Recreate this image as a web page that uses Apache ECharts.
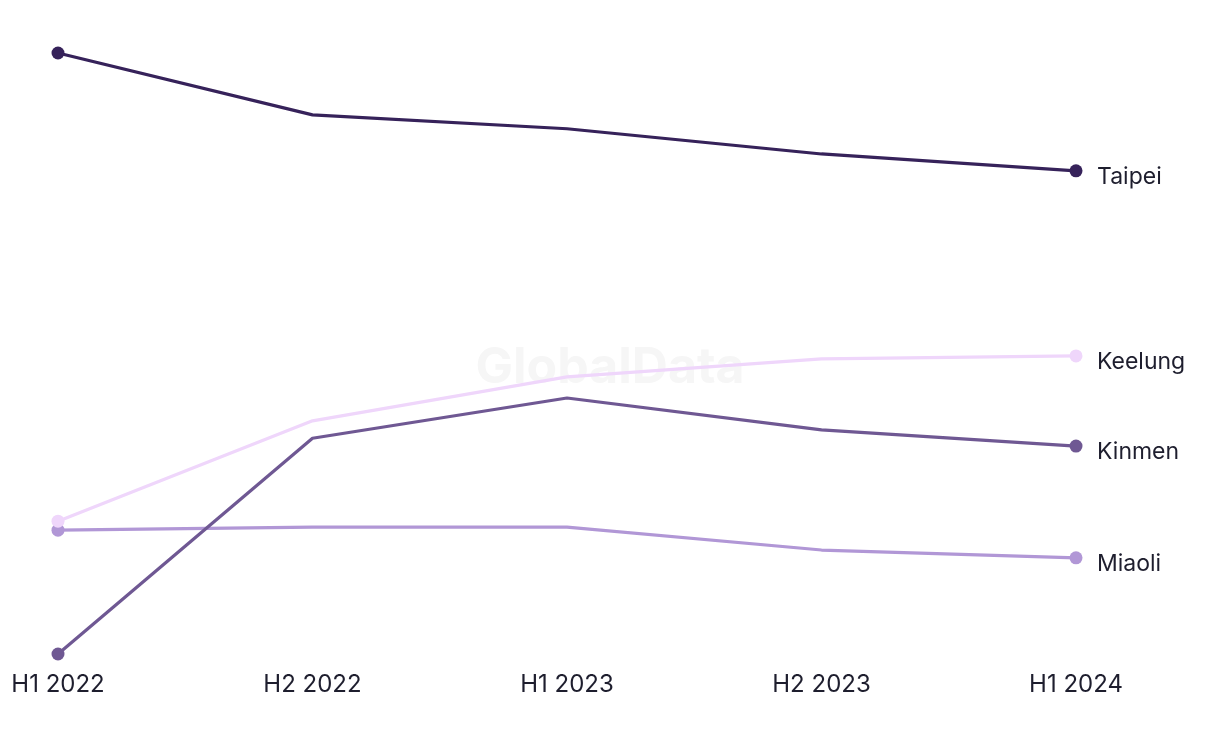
<!DOCTYPE html>
<html><head><meta charset="utf-8">
<script src="https://cdn.jsdelivr.net/npm/echarts@6/dist/echarts.min.js"></script>
<style>html,body{margin:0;padding:0;background:#fff}#c{width:1220px;height:744px}</style>
</head><body><div id="c"></div>
<script>
const categories = ['H1 2022','H2 2022','H1 2023','H2 2023','H1 2024'];
const taipei  = [100, 89.7, 87.4, 83.2, 80.4];
const keelung = [22.1, 38.8, 46.1, 49.1, 49.6];
const kinmen  = [0, 35.9, 42.6, 37.3, 34.6];
const miaoli  = [20.6, 21.1, 21.1, 17.3, 16.0];
const seriesDefs = [
  {name:'Taipei', data:taipei, color:'#36225a'},
  {name:'Keelung', data:keelung, color:'#efd6fb'},
  {name:'Kinmen', data:kinmen, color:'#6f5893'},
  {name:'Miaoli', data:miaoli, color:'#b197d6'}
];
const chart = echarts.init(document.getElementById('c'));
const font = 'Inter, "Liberation Sans", sans-serif';
chart.setOption({
  animation:false,
  graphic:[{type:'text', left:'center', top:343, z:0, style:{text:'GlobalData', font:'bold 50px '+font, fill:'#f6f6f6'}}],
  grid:{left:58, right:144, top:53, bottom:90},
  xAxis:{type:'category', data:categories, boundaryGap:false,
    axisLine:{show:false}, axisTick:{show:false}, splitLine:{show:false},
    axisLabel:{color:'#1e1e2e', fontSize:24, fontFamily:font, margin:19}},
  yAxis:{type:'value', min:0, max:100, show:false, splitLine:{show:false}},
  series: seriesDefs.slice().reverse().map(s=>({
    name:s.name, type:'line', data:s.data, z:3,
    lineStyle:{color:s.color, width:3.2},
    itemStyle:{color:s.color},
    symbol:'circle',
    symbolSize:(v,p)=> (p.dataIndex===0||p.dataIndex===s.data.length-1)?13:0,
    showSymbol:true,
    endLabel:{show:true, formatter:'{a}', color:'#1e1e2e', fontSize:23, fontFamily:font, distance:21, offset:[0,6]}
  }))
});
</script></body></html>
